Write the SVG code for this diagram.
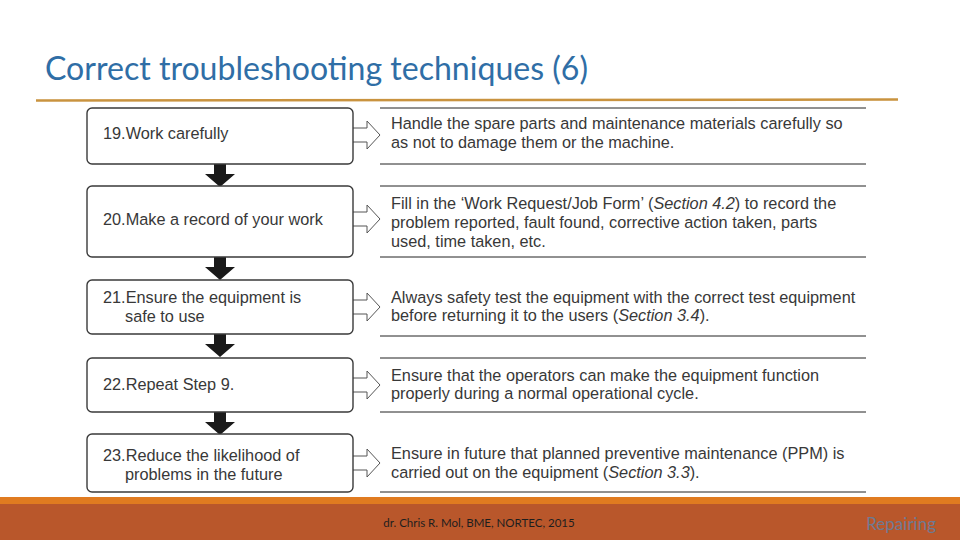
<svg xmlns="http://www.w3.org/2000/svg" width="960" height="540" viewBox="0 0 960 540">
<defs>
<style>
.box{fill:#fff;stroke:#3a3a3a;stroke-width:1.4}
.lt{font-family:"Liberation Sans",Arial,sans-serif;font-size:16.3px;fill:#383838}
.rt{font-family:"Liberation Sans",Arial,sans-serif;font-size:16.3px;fill:#383838}
.rule{stroke:#222;stroke-width:1}
.harrow{fill:#fff;stroke:#555;stroke-width:1}
.darrow{fill:#1a1a1a}
</style>
<path id="ha" class="harrow" d="M0,-7 H14 V-14 L27,0 L14,14 V7 H0"/>
<path id="da" class="darrow" d="M-6,0 H6 V10 H15 L0,23 L-15,10 H-6 Z"/>
</defs>
<rect width="960" height="540" fill="#fff"/>
<text x="45" y="80" font-family="Lato,'Open Sans',sans-serif" font-size="33" fill="#2f6ea6" textLength="543" lengthAdjust="spacingAndGlyphs">Correct troubleshooting techniques (6)</text>
<line x1="36" y1="100.5" x2="898" y2="99.5" stroke="#c9933f" stroke-width="2.5"/>

<g id="connectors">
<use href="#da" x="220" y="164"/>
<use href="#da" x="220" y="257"/>
<use href="#da" x="220" y="334"/>
<use href="#da" x="220" y="412"/>
<use href="#ha" x="353" y="135"/>
<use href="#ha" x="353" y="219"/>
<use href="#ha" x="353" y="307"/>
<use href="#ha" x="353" y="385"/>
<use href="#ha" x="353" y="463"/>
</g>

<g id="step19">
<rect class="box" x="87" y="108" width="266" height="56" rx="5"/>
<text class="lt" x="103" y="139">19.Work carefully</text>
</g>
<g id="step20">
<rect class="box" x="87" y="186" width="266" height="71" rx="5"/>
<text class="lt" x="103" y="225">20.Make a record of your work</text>
</g>
<g id="step21">
<rect class="box" x="87" y="280" width="266" height="54" rx="5"/>
<text class="lt" x="103" y="303">21.Ensure the equipment is</text>
<text class="lt" x="125" y="322">safe to use</text>
</g>
<g id="step22">
<rect class="box" x="87" y="358" width="266" height="54" rx="5"/>
<text class="lt" x="103" y="390">22.Repeat Step 9.</text>
</g>
<g id="step23">
<rect class="box" x="87" y="434" width="266" height="58" rx="5"/>
<text class="lt" x="103" y="461">23.Reduce the likelihood of</text>
<text class="lt" x="125" y="480">problems in the future</text>
</g>

<g id="note19">
<line class="rule" x1="380" y1="108" x2="866" y2="108"/>
<line class="rule" x1="380" y1="164" x2="866" y2="164"/>
<text class="rt" x="391" y="129">Handle the spare parts and maintenance materials carefully so</text>
<text class="rt" x="391" y="148">as not to damage them or the machine.</text>
</g>
<g id="note20">
<line class="rule" x1="380" y1="186" x2="866" y2="186"/>
<line class="rule" x1="380" y1="257" x2="866" y2="257"/>
<text class="rt" x="391" y="209">Fill in the ‘Work Request/Job Form’ (<tspan font-style="italic">Section 4.2</tspan>) to record the</text>
<text class="rt" x="391" y="228">problem reported, fault found, corrective action taken, parts</text>
<text class="rt" x="391" y="247">used, time taken, etc.</text>
</g>
<g id="note21">
<line class="rule" x1="380" y1="336" x2="866" y2="336"/>
<text class="rt" x="391" y="303">Always safety test the equipment with the correct test equipment</text>
<text class="rt" x="391" y="321">before returning it to the users (<tspan font-style="italic">Section 3.4</tspan>).</text>
</g>
<g id="note22">
<line class="rule" x1="380" y1="358" x2="866" y2="358"/>
<line class="rule" x1="380" y1="412" x2="866" y2="412"/>
<text class="rt" x="391" y="381">Ensure that the operators can make the equipment function</text>
<text class="rt" x="391" y="399">properly during a normal operational cycle.</text>
</g>
<g id="note23">
<line class="rule" x1="380" y1="492" x2="866" y2="492"/>
<text class="rt" x="391" y="459">Ensure in future that planned preventive maintenance (PPM) is</text>
<text class="rt" x="391" y="478">carried out on the equipment (<tspan font-style="italic">Section 3.3</tspan>).</text>
</g>

<rect x="0" y="497" width="960" height="7" fill="#e07b20"/>
<rect x="0" y="504" width="960" height="36" fill="#b9572b"/>
<text x="479" y="527" text-anchor="middle" font-family="Lato,'Open Sans',sans-serif" font-size="11.5" fill="#1e1e1e">dr. Chris R. Mol, BME, NORTEC, 2015</text>
<text x="936" y="530" text-anchor="end" font-family="Lato,'Open Sans',sans-serif" font-size="17" fill="#6f7a92">Repairing</text>
</svg>
